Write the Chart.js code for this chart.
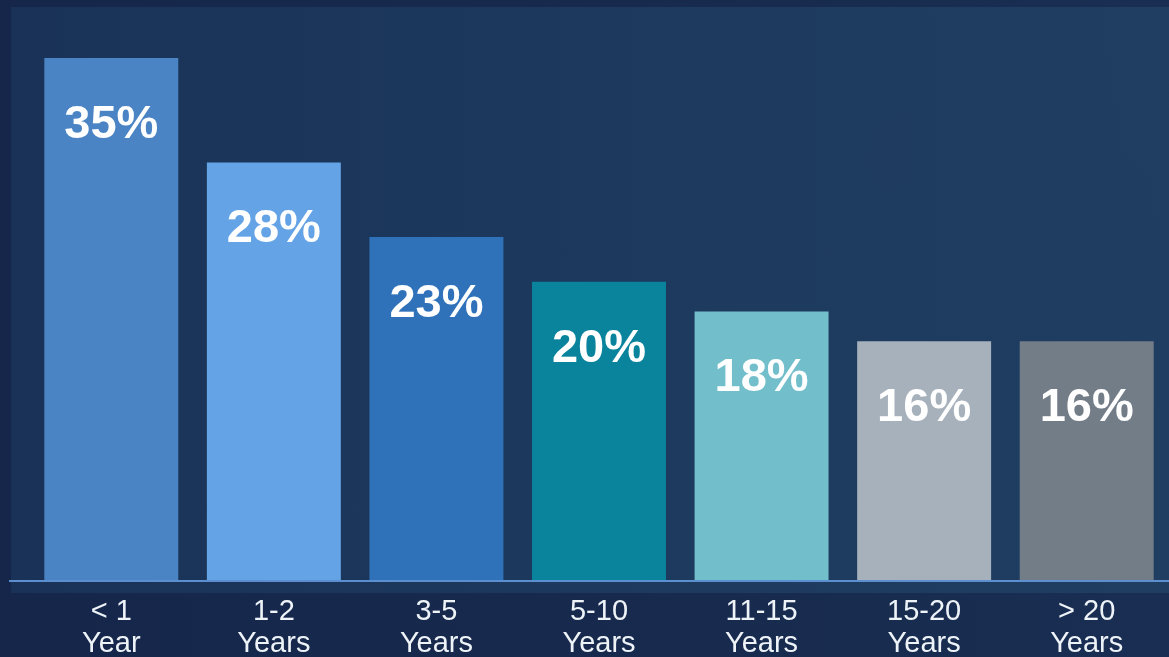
<!DOCTYPE html>
<html>
<head>
<meta charset="utf-8">
<script src="https://cdn.jsdelivr.net/npm/chart.js@4.4.0/dist/chart.umd.min.js"></script>
<style>
  html, body { margin: 0; padding: 0; overflow: hidden; }
  body {
    width: 1169px; height: 657px; position: relative;
    background: linear-gradient(90deg, #15264a 0%, #192e52 100%);
  }
  .panel {
    position: absolute; left: 11px; top: 7px; width: 1158px; height: 586px;
    background:
      radial-gradient(ellipse 330px 300px at 960px 300px, rgba(40,75,110,0.0) 0%, rgba(30,60,95,0.25) 60%, rgba(30,60,95,0) 100%),
      linear-gradient(90deg, #1a3257 0%, #1d395e 50%, #1f3e62 100%);
  }
  .wrap { position: absolute; left: 0; top: 0; width: 1169px; height: 657px; }
</style>
</head>
<body>
<div class="panel"></div>
<div class="wrap"><canvas id="bar-chart"></canvas></div>
<script>
const categories = [["< 1", "Year"], ["1-2", "Years"], ["3-5", "Years"], ["5-10", "Years"], ["11-15", "Years"], ["15-20", "Years"], ["> 20", "Years"]];
const values = [35, 28, 23, 20, 18, 16, 16];
const valueLabels = ["35%", "28%", "23%", "20%", "18%", "16%", "16%"];
const barColors = ["#4a84c4", "#64a4e6", "#2f72ba", "#0a849c", "#72bfcb", "#a7b1bc", "#737d88"];

// baseline line + labels inside the bars
const barLabels = {
  id: "barLabels",
  afterDatasetsDraw(chart) {
    const ctx = chart.ctx;
    const area = chart.chartArea;
    ctx.save();
    ctx.strokeStyle = "#5b8fcf";
    ctx.lineWidth = 2;
    ctx.beginPath();
    ctx.moveTo(9, area.bottom + 1);
    ctx.lineTo(chart.width, area.bottom + 1);
    ctx.stroke();

    ctx.fillStyle = "#ffffff";
    ctx.font = "bold 47px 'Liberation Sans', Arial, sans-serif";
    ctx.textAlign = "center";
    ctx.textBaseline = "middle";
    chart.getDatasetMeta(0).data.forEach((bar, i) => {
      ctx.fillText(valueLabels[i], bar.x, bar.y + 67);
    });
    ctx.restore();
  }
};

let config = {
  type: "bar",
  data: {
    labels: categories,
    datasets: [
      {
        data: values,
        backgroundColor: barColors,
        borderWidth: 0,
        barPercentage: 0.824,
        categoryPercentage: 1.0,
      },
    ],
  },
  options: {
    responsive: true,
    maintainAspectRatio: false,
    animation: false,
    layout: { padding: { top: 58, left: 30, right: 1, bottom: 0 } },
    plugins: {
      legend: { display: false },
      tooltip: { enabled: false },
    },
    scales: {
      x: {
        grid: { display: false },
        border: { display: false },
        ticks: {
          color: "#eef3f8",
          padding: 8,
          maxRotation: 0,
          autoSkip: false,
          font: { family: "'Liberation Sans', Arial, sans-serif", size: 29, lineHeight: 1.1 },
        },
        afterFit(scale) { scale.height = 77; },
      },
      y: {
        display: false,
        min: 0,
        max: 35,
      },
    },
  },
  plugins: [barLabels],
};

let ctx = document.getElementById("bar-chart").getContext("2d");
new Chart(ctx, config);
</script>
</body>
</html>
